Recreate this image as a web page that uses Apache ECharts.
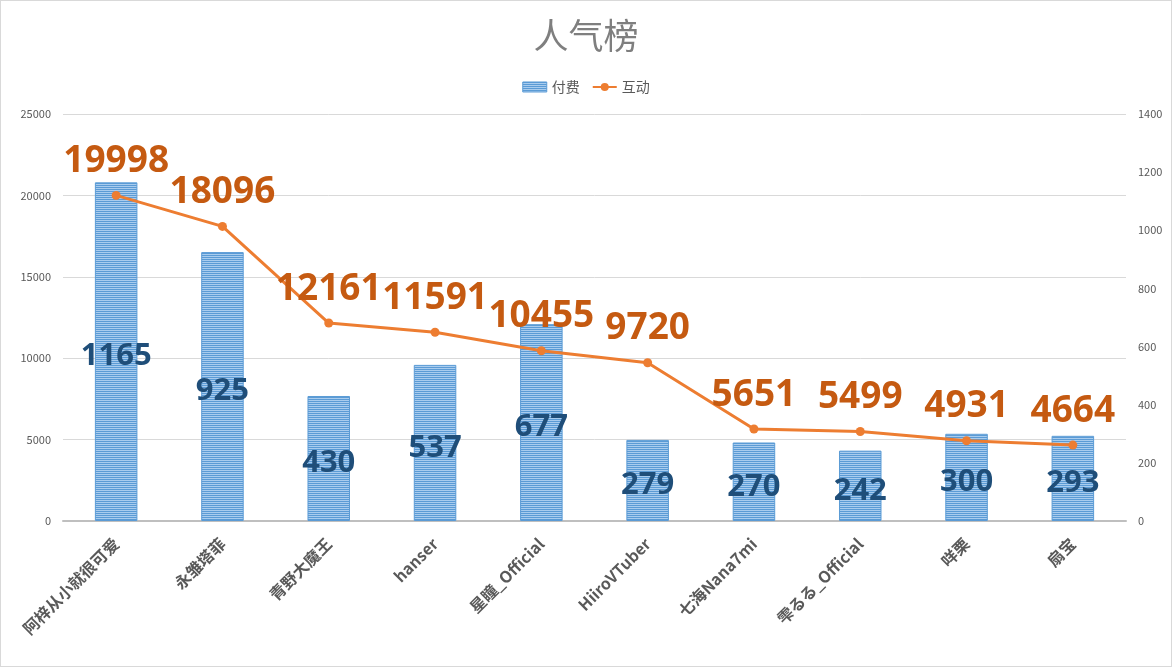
<!DOCTYPE html>
<html>
<head>
<meta charset="utf-8">
<script src="https://cdn.jsdelivr.net/npm/echarts@6/dist/echarts.min.js"></script>
<style>
html,body{margin:0;padding:0;background:#fff;}
#c{width:1170px;height:665px;border:1px solid #d9d9d9;}
</style>
</head>
<body>
<div id="c"></div>
<script>
const categories = ['阿梓从小就很可爱','永雏塔菲','青野大魔王','hanser','星瞳_Official','HiiroVTuber','七海Nana7mi','雫るる_Official','咩栗','扇宝'];
const paidValues = [1165, 925, 430, 537, 677, 279, 270, 242, 300, 293];
const interactValues = [19998, 18096, 12161, 11591, 10455, 9720, 5651, 5499, 4931, 4664];
const leftTicks = {min: 0, max: 25000, interval: 5000};
const rightTicks = {min: 0, max: 1400, interval: 200};

const cv = document.createElement('canvas');
cv.width = 4; cv.height = 2;
const cx = cv.getContext('2d');
cx.fillStyle = '#5B9BD5'; cx.fillRect(0,0,4,1);
cx.fillStyle = '#A9CCEE'; cx.fillRect(0,1,4,1);
const stripe = {image: cv, repeat: 'repeat'};

const chart = echarts.init(document.getElementById('c'), null, {renderer: 'canvas', devicePixelRatio: 1});
const font = '"Noto Sans CJK SC", "Noto Sans", sans-serif';
const plain = v => String(v);
chart.setOption({
  backgroundColor: '#fff',
  animation: false,
  title: {
    text: '人气榜', left: 'center', top: 12,
    textStyle: {fontSize: 35, fontWeight: 'normal', color: '#7f7f7f', fontFamily: font}
  },
  legend: {
    top: 74, left: 'center', itemGap: 12, itemWidth: 24, itemHeight: 10,
    textStyle: {fontSize: 14, color: '#595959', fontFamily: font},
    data: [{name: '付费', icon: 'rect', itemStyle: {color: stripe, borderColor: '#5B9BD5', borderWidth: 1}}, {name: '互动'}]
  },
  grid: {left: 62, right: 45, top: 113, bottom: 145, containLabel: false},
  xAxis: {
    type: 'category', data: categories,
    axisLine: {lineStyle: {color: '#bfbfbf', width: 2}},
    axisTick: {show: false},
    axisLabel: {rotate: 45, fontSize: 16, fontWeight: 'bold', color: '#595959', margin: 20, fontFamily: font, interval: 0}
  },
  yAxis: [
    {type: 'value', min: leftTicks.min, max: leftTicks.max, interval: leftTicks.interval,
     axisLine: {show: false}, axisTick: {show: false},
     axisLabel: {fontSize: 11, color: '#595959', margin: 12, fontFamily: font, formatter: plain},
     splitLine: {lineStyle: {color: '#d9d9d9', width: 1}}},
    {type: 'value', min: rightTicks.min, max: rightTicks.max, interval: rightTicks.interval,
     axisLine: {show: false}, axisTick: {show: false},
     axisLabel: {fontSize: 11, color: '#595959', margin: 12, fontFamily: font, formatter: plain},
     splitLine: {show: false}}
  ],
  series: [
    {
      name: '付费', type: 'bar', yAxisIndex: 1, data: paidValues, barWidth: '40%',
      itemStyle: {color: stripe, borderColor: '#5B9BD5', borderWidth: 1},
      label: {show: true, position: 'inside', offset: [0, 5], fontSize: 31, fontWeight: 'bold', color: '#1F4E79', fontFamily: '"Noto Sans", sans-serif'},
      z: 2
    },
    {
      name: '互动', type: 'line', yAxisIndex: 0, data: interactValues,
      symbol: 'circle', symbolSize: 9,
      lineStyle: {color: '#ED7D31', width: 3},
      itemStyle: {color: '#ED7D31'},
      label: {show: true, position: 'top', distance: 11, fontSize: 37, fontWeight: 'bold', color: '#C55A11', fontFamily: '"Noto Sans", sans-serif'},
      z: 3
    }
  ]
});
</script>
</body>
</html>
